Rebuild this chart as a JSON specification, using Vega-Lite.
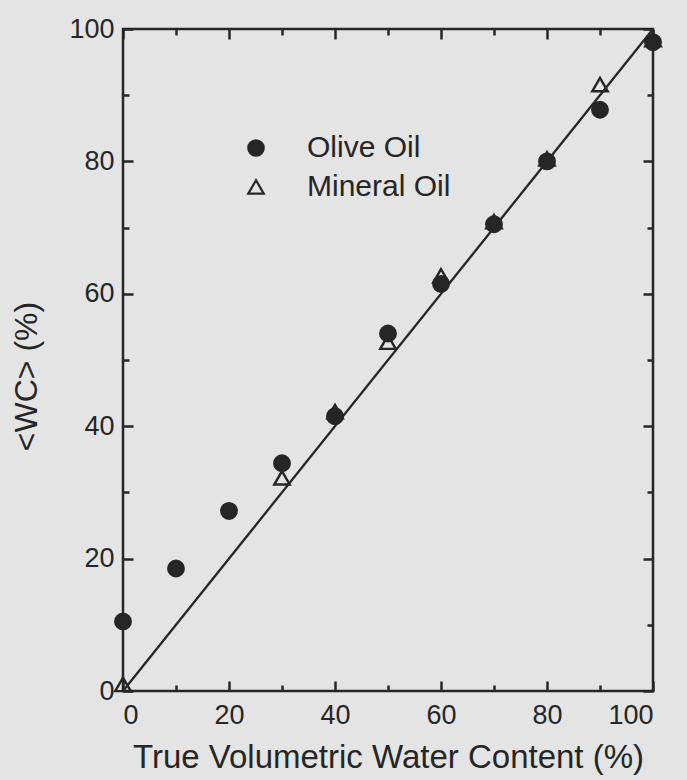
{
  "$schema": "https://vega.github.io/schema/vega-lite/v6.json",
  "width": 530,
  "height": 662,
  "autosize": {"type": "none"},
  "padding": {"left": 123, "top": 29, "right": 34, "bottom": 89},
  "background": "#e4e4e4",
  "config": {
    "view": {"stroke": "#262626", "strokeWidth": 2.5},
    "font": "Liberation Sans",
    "axis": {
      "domain": false,
      "grid": false,
      "tickColor": "#262626",
      "tickWidth": 2.5,
      "labelColor": "#262626",
      "labelFontSize": 27,
      "labelFont": "Liberation Sans",
      "titleFont": "Liberation Sans",
      "titleColor": "#262626",
      "titleFontSize": 32,
      "titleFontWeight": "normal"
    }
  },
  "datasets": {
    "fit": [
      {"x": 0, "y": 0},
      {"x": 100, "y": 100}
    ],
    "points": [
      {"series": "Olive Oil", "x": 0, "y": 10.5},
      {"series": "Olive Oil", "x": 10, "y": 18.5},
      {"series": "Olive Oil", "x": 20, "y": 27.2},
      {"series": "Olive Oil", "x": 30, "y": 34.4},
      {"series": "Olive Oil", "x": 40, "y": 41.5},
      {"series": "Olive Oil", "x": 50, "y": 54},
      {"series": "Olive Oil", "x": 60, "y": 61.5},
      {"series": "Olive Oil", "x": 70, "y": 70.5},
      {"series": "Olive Oil", "x": 80, "y": 80},
      {"series": "Olive Oil", "x": 90, "y": 87.8},
      {"series": "Olive Oil", "x": 100, "y": 98},
      {"series": "Mineral Oil", "x": 0, "y": 1},
      {"series": "Mineral Oil", "x": 30, "y": 32.2},
      {"series": "Mineral Oil", "x": 40, "y": 42.2},
      {"series": "Mineral Oil", "x": 50, "y": 52.7},
      {"series": "Mineral Oil", "x": 60, "y": 62.7},
      {"series": "Mineral Oil", "x": 70, "y": 70.9},
      {"series": "Mineral Oil", "x": 80, "y": 80.4},
      {"series": "Mineral Oil", "x": 90, "y": 91.6},
      {"series": "Mineral Oil", "x": 100, "y": 98.4}
    ]
  },
  "layer": [
    {
      "data": {"name": "fit"},
      "mark": {"type": "line", "color": "#262626", "strokeWidth": 2.3},
      "encoding": {
        "x": {
          "field": "x", "type": "quantitative",
          "scale": {"domain": [0, 100], "nice": false},
          "axis": {
            "orient": "bottom",
            "values": [0, 10, 20, 30, 40, 50, 60, 70, 80, 90, 100],
            "tickSize": {"condition": {"test": "datum.value % 20 === 0", "value": -10}, "value": -6},
            "labelExpr": "datum.value % 20 === 0 ? datum.label : ''",
            "labelPadding": 21,
            "title": "True Volumetric Water Content (%)",
            "titleFontSize": 33,
            "titlePadding": 13
          }
        },
        "y": {
          "field": "y", "type": "quantitative",
          "scale": {"domain": [0, 100], "nice": false},
          "axis": {
            "orient": "left",
            "values": [0, 10, 20, 30, 40, 50, 60, 70, 80, 90, 100],
            "tickSize": {"condition": {"test": "datum.value % 20 === 0", "value": -10}, "value": -6},
            "labelExpr": "datum.value % 20 === 0 ? datum.label : ''",
            "labelPadding": 19,
            "title": "<WC> (%)",
            "titlePadding": 25,
            "titleY": 347
          }
        }
      }
    },
    {
      "data": {"name": "fit"},
      "mark": {"type": "line", "opacity": 0},
      "encoding": {
        "x": {
          "field": "x", "type": "quantitative",
          "scale": {"domain": [0, 100], "nice": false},
          "axis": {
            "orient": "top",
            "values": [0, 10, 20, 30, 40, 50, 60, 70, 80, 90, 100],
            "tickSize": {"condition": {"test": "datum.value % 20 === 0", "value": -10}, "value": -6},
            "labels": false,
            "title": null
          }
        },
        "y": {
          "field": "y", "type": "quantitative",
          "scale": {"domain": [0, 100], "nice": false},
          "axis": {
            "orient": "right",
            "values": [0, 10, 20, 30, 40, 50, 60, 70, 80, 90, 100],
            "tickSize": {"condition": {"test": "datum.value % 20 === 0", "value": -10}, "value": -6},
            "labels": false,
            "title": null
          }
        }
      }
    },
    {
      "data": {"name": "points"},
      "mark": {"type": "point", "stroke": "#262626", "strokeWidth": 2.4, "opacity": 1, "size": 240},
      "encoding": {
        "x": {"field": "x", "type": "quantitative", "scale": {"domain": [0, 100], "nice": false}, "axis": null},
        "y": {"field": "y", "type": "quantitative", "scale": {"domain": [0, 100], "nice": false}, "axis": null},
        "shape": {
          "field": "series", "type": "nominal",
          "scale": {"domain": ["Olive Oil", "Mineral Oil"], "range": ["circle", "triangle-up"]},
          "legend": {
            "orient": "none",
            "legendX": 118,
            "legendY": 104,
            "title": null,
            "labelFontSize": 30,
            "labelFont": "Liberation Sans",
            "labelColor": "#262626",
            "labelOffset": 36,
            "symbolSize": 240,
            "symbolStrokeWidth": 2.2,
            "rowPadding": 9,
            "padding": 0
          }
        },
        "fill": {
          "field": "series", "type": "nominal",
          "scale": {"domain": ["Olive Oil", "Mineral Oil"], "range": ["#262626", "rgba(0,0,0,0)"]}
        }
      }
    }
  ],
  "resolve": {"axis": {"x": "independent", "y": "independent"}}
}
